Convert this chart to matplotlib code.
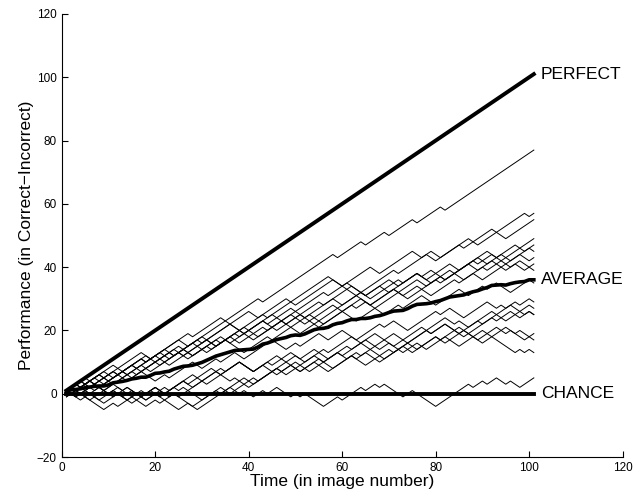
import numpy as np
import matplotlib
matplotlib.use("Agg")
import matplotlib.pyplot as plt

plt.rcParams['font.family'] = ['Liberation Sans', 'DejaVu Sans']

# each subject: streaks of correct (+n) / incorrect (-n) answers over 101 images
streaks = [
    [4, -1, 6, -1, 5, -2, 8, -1, 6, -1, 7, -1, 15, -1, 5, -1, 4, -1, 5, -1, 5, -1, 19],
    [3, -1, 5, -2, 6, -1, 7, -2, 8, -1, 4, -2, 6, -1, 8, -3, 6, -2, 7, -2, 2, -2, 6, -2, 10, -1, 1],
    [2, -1, 4, -2, 6, -1, 5, -2, 7, -3, 5, -1, 6, -2, 9, -1, 4, -3, 7, -1, 6, -2, 5, -1, 6, -3, 6],
    [1, -1, 3, -1, 5, -2, 4, -1, 6, -2, 3, -2, 6, -1, 2, -2, 7, -3, 6, -1, 5, -2, 6, -1, 3, -2, 5, -2, 6, -2, 4, -1, 3],
    [4, -1, 3, -2, 7, -1, 4, -2, 5, -1, 6, -3, 4, -1, 5, -2, 4, -1, 6, -3, 5, -2, 4, -1, 2, -3, 6, -1, 3, -2, 4, -1, 2],
    [5, -2, 4, -1, 6, -3, 5, -1, 4, -2, 6, -1, 3, -3, 5, -1, 6, -2, 4, -1, 3, -2, 6, -3, 4, -1, 5, -2, 3, -2, 4, -1],
    [3, -2, 4, -1, 5, -2, 6, -1, 4, -1, 7, -2, 5, -1, 5, -1, 8, -8, 5, -1, 4, -2, 3, -1, 5, -2, 3, -2, 4, -2, 1],
    [2, -1, 3, -3, 6, -1, 5, -2, 4, -1, 6, -2, 3, -2, 6, -1, 3, -3, 5, -1, 4, -2, 5, -3, 6, -1, 3, -2, 4, -1, 3, -2, 2, -2, 1],
    [2, -1, 5, -1, 3, -2, 6, -1, 4, -3, 5, -1, 2, -2, 5, -1, 3, -2, 4, -3, 6, -1, 2, -2, 5, -1, 3, -3, 5, -1, 3, -2, 4, -1, 2, -2, 1, -1],
    [1, -2, 4, -1, 5, -2, 3, -1, 6, -2, 4, -1, 3, -4, 5, -1, 4, -2, 3, -1, 5, -3, 4, -2, 3, -1, 4, -3, 5, -2, 3, -1, 2, -3, 4, -1],
    [3, -1, 2, -3, 4, -1, 3, -3, 2, -1, 5, -2, 3, -1, 3, -2, 6, -3, 2, -1, 4, -2, 3, -3, 5, -1, 2, -3, 6, -1, 2, -3, 5, -2, 1, -1, 2, -1, 2, -1],
    [2, -2, 3, -1, 2, -3, 1, -3, 3, -2, 4, -2, 5, -1, 4, -3, 5, -1, 2, -3, 4, -1, 5, -2, 3, -4, 6, -1, 4, -2, 1, -2, 5, -1, 3, -2, 2, -1],
    [1, -1, 3, -2, 1, -2, 2, -3, 2, -1, 2, -3, 1, -5, 6, -1, 5, -1, 4, -2, 6, -2, 3, -1, 5, -3, 2, -2, 6, -1, 3, -3, 4, -1, 3, -2, 3, -1, 1, -1],
    [-1, 2, -3, 1, -2, 3, -1, 2, -3, 4, -1, 5, -2, 4, -1, 3, -3, 2, -2, 5, -1, 3, -3, 4, -1, 2, -2, 5, -3, 4, -1, 3, -2, 1, -2, 5, -1, 3, -2, 2, -1],
    [2, -1, 1, -3, 2, -2, 1, -3, 2, -1, 2, -5, 2, -1, 6, -1, 4, -2, 5, -1, 3, -3, 2, -2, 6, -1, 2, -3, 5, -2, 4, -1, 3, -2, 1, -3, 5, -2, 1, -2, 1],
    [-1, 2, -2, 3, -2, 1, -3, 1, -3, 2, -1, 3, -1, 5, -1, 3, -2, 1, -3, 5, -1, 3, -2, 4, -3, 4, -1, 2, -3, 4, -1, 3, -2, 4, -1, 3, -3, 4, -2, 1, -3, 1, -1],
    [1, -3, 1, -4, 2, -1, 4, -1, 3, -2, 4, -1, 5, -2, 4, -3, 3, -1, 2, -4, 3, -1, 4, -2, 1, -3, 5, -1, 2, -2, 5, -2, 1, -2, 5, -7, 1, -1, 1, -1],
    [1, -2, 2, -3, 3, -1, 2, -3, 2, -2, 3, -1, 1, -4, 3, -1, 2, -2, 1, -2, 2, -1, 2, -3, 1, -1, 1, -4, 3, -1, 4, -1, 2, -1, 1, -4, 2, -5, 7, -1, 2, -1, 2, -2, 1, -2, 3],
]

n_images = 101
labels = ["PERFECT", "AVERAGE", "CHANCE"]


def expand(runs):
    steps = []
    for r in runs:
        steps += [1 if r > 0 else -1] * abs(r)
    return np.array(steps)


answers = np.array([expand(s) for s in streaks])
scores = np.cumsum(answers, axis=1)
t = np.arange(1, n_images + 1)
perfect = np.cumsum(np.ones(n_images))
chance = np.zeros(n_images)
average = scores.mean(axis=0)

fig = plt.figure(figsize=(6.36, 5.0), dpi=100)
ax = fig.add_axes([0.097, 0.086, 0.882, 0.886])

for s in scores:
    ax.plot(t, s, color='black', lw=0.7)
ax.plot(t, perfect, color='black', lw=2.8, zorder=5)
ax.plot(t, average, color='black', lw=2.6, zorder=5)
ax.plot(t, chance, color='black', lw=2.8, zorder=5)

for lab, y in zip(labels, [perfect[-1], average[-1], chance[-1]]):
    ax.text(t[-1] + 1.5, y, lab, ha='left', va='center', fontsize=12.5)

ax.set_xlim(0, 120)
ax.set_ylim(-20, 120)
ax.set_xticks(range(0, 121, 20))
ax.set_yticks(range(-20, 121, 20))
ax.spines['top'].set_visible(False)
ax.spines['right'].set_visible(False)
ax.tick_params(direction='in', length=4, labelsize=8.5)
ax.set_xlabel("Time (in image number)", fontsize=12.5, labelpad=0)
ax.set_ylabel("Performance (in Correct\u2212Incorrect)", fontsize=12.5, labelpad=2)

fig.savefig("out.png", dpi=100)
